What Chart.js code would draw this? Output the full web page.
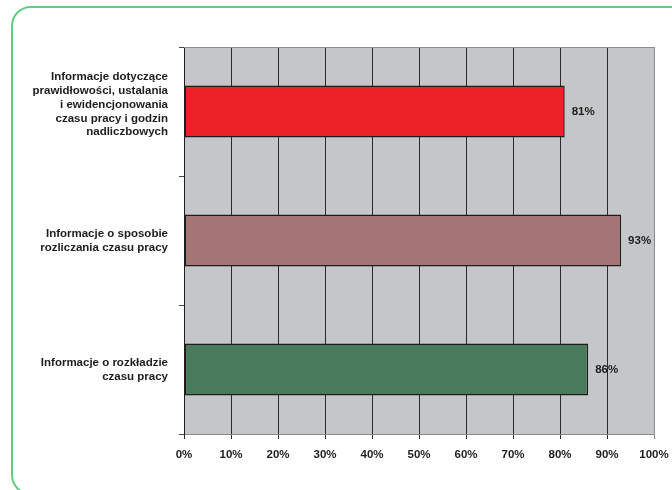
<!DOCTYPE html>
<html>
<head>
<meta charset="utf-8">
<script src="https://cdn.jsdelivr.net/npm/chart.js@4/dist/chart.umd.min.js"></script>
<style>
  html, body { margin: 0; padding: 0; background: #ffffff; }
  #wrap { position: relative; width: 672px; height: 490px; overflow: hidden; }
  #frame { position: absolute; left: 11px; top: 6px; width: 720px; height: 489px;
           border: 2px solid #62cc82; border-radius: 20px; box-sizing: border-box; }
  canvas { position: absolute; left: 0; top: 0; }
</style>
</head>
<body>
<div id="wrap">
  <div id="frame"></div>
  <canvas id="c" width="672" height="490"></canvas>
</div>
<script>
const categories = [
  ["Informacje dotyczące", "prawidłowości, ustalania", "i ewidencjonowania", "czasu pracy i godzin", "nadliczbowych"],
  ["Informacje o sposobie", "rozliczania czasu pracy"],
  ["Informacje o rozkładzie", "czasu pracy"]
];
const values = [81, 93, 86];
const barColors = ["#ec2229", "#a57474", "#487a5b"];
const tickValues = [0, 10, 20, 30, 40, 50, 60, 70, 80, 90, 100];

const FONT = "'Liberation Sans', Arial, sans-serif";
const TEXT = "#1f1c1d";

const plotBg = {
  id: 'plotBg',
  beforeDraw(chart) {
    const a = chart.chartArea, ctx = chart.ctx;
    ctx.save();
    ctx.fillStyle = '#c5c6c8';
    ctx.fillRect(a.left, a.top, a.right - a.left, a.bottom - a.top);
    ctx.restore();
  },
  afterDatasetsDraw(chart) {
    const a = chart.chartArea, ctx = chart.ctx;
    ctx.save();
    ctx.strokeStyle = '#8c8c8c';
    ctx.lineWidth = 1;
    ctx.beginPath();
    ctx.moveTo(a.left, a.top + 0.5);
    ctx.lineTo(a.right, a.top + 0.5);
    ctx.stroke();
    const meta = chart.getDatasetMeta(0);
    const xs = chart.scales.x;
    ctx.fillStyle = TEXT;
    ctx.font = "bold 11.5px " + FONT;
    ctx.textAlign = 'left';
    ctx.textBaseline = 'middle';
    meta.data.forEach((bar, i) => {
      ctx.fillText(values[i] + '%', xs.getPixelForValue(values[i]) + 7, bar.y);
    });
    ctx.restore();
  }
};

new Chart(document.getElementById('c'), {
  type: 'bar',
  data: {
    labels: categories,
    datasets: [{
      data: values,
      backgroundColor: barColors,
      borderColor: '#1f1c1d',
      borderWidth: 1.5,
      borderSkipped: false,
      barPercentage: 0.405,
      categoryPercentage: 1.0
    }]
  },
  plugins: [plotBg],
  options: {
    indexAxis: 'y',
    responsive: false,
    animation: false,
    layout: { padding: { left: 0, top: 47, right: 18, bottom: 0 } },
    plugins: { legend: { display: false }, tooltip: { enabled: false } },
    scales: {
      x: {
        min: 0, max: 100,
        afterBuildTicks(s) { s.ticks = tickValues.map(v => ({ value: v })); },
        afterFit(s) { s.height = 56; s.paddingLeft = 0; s.paddingRight = 0; },
        border: { display: true, color: '#8c8c8c', width: 1 },
        grid: {
          drawOnChartArea: true, drawTicks: true, tickLength: 5,
          color: ctx => (ctx.tick && ctx.tick.value === 100) ? '#8c8c8c' : '#2a2a2a',
          lineWidth: 1
        },
        ticks: {
          padding: 9, color: TEXT, maxRotation: 0,
          font: { family: FONT, size: 11.5, weight: 'bold' },
          callback: v => v + '%'
        }
      },
      y: {
        afterFit(s) { s.width = 184; s.paddingTop = 0; s.paddingBottom = 0; },
        border: { display: true, color: '#1f1c1d', width: 1 },
        grid: { offset: true, drawOnChartArea: false, drawTicks: true, tickLength: 5, color: '#444' },
        ticks: {
          padding: 11, color: TEXT,
          font: { family: FONT, size: 11.5, weight: 'bold', lineHeight: 1.2 },
          callback(v, i) {
            const lines = categories[i];
            return lines.length > 3 ? lines.concat(['']) : lines;
          }
        }
      }
    }
  }
});
</script>
</body>
</html>
